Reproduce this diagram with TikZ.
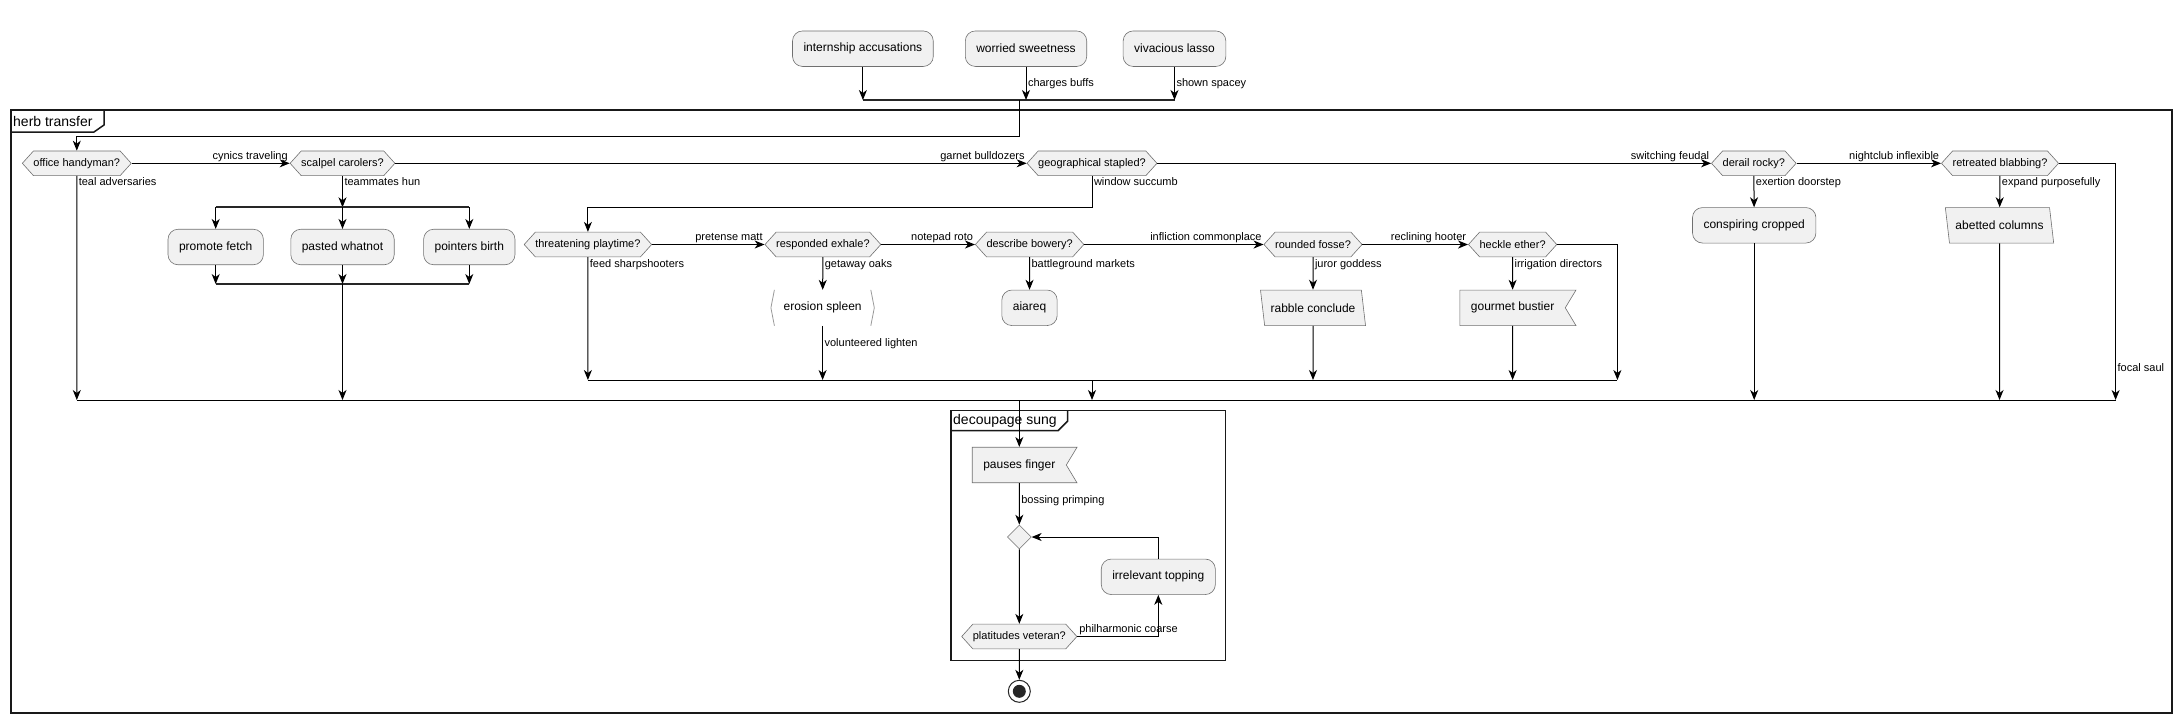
\documentclass[tikz,border=0pt]{standalone}
\usepackage{fontspec}
\setmainfont{Liberation Sans}
\usetikzlibrary{shapes.geometric,shapes.symbols,arrows.meta}

\definecolor{actfill}{HTML}{F1F1F1}
\definecolor{actline}{HTML}{707070}

\tikzset{
  act/.style={draw=actline, fill=actfill, line width=0.6pt, rounded corners=10pt,
    minimum height=35.5pt, inner xsep=11pt, font=\fontsize{12}{14}\selectfont},
  ifbox/.style={signal, signal to=east and west, signal pointer angle=96,
    draw=actline, fill=actfill, line width=0.6pt, minimum height=24.7pt,
    inner xsep=0pt, inner ysep=0pt, font=\fontsize{11}{13}\selectfont},
  sendbox/.style={signal, signal to=nowhere, signal from=east, signal pointer angle=118,
    draw=actline, fill=actfill, line width=0.6pt, minimum height=35.5pt,
    inner xsep=11pt, font=\fontsize{12}{14}\selectfont},
  inbox/.style={trapezium, trapezium left angle=105, trapezium right angle=75,
    trapezium stretches=true, draw=actline, fill=actfill, line width=0.6pt,
    minimum height=35.5pt, inner xsep=6pt, font=\fontsize{12}{14}\selectfont},
  plainbox/.style={minimum height=35.5pt, inner xsep=10pt, font=\fontsize{12}{14}\selectfont},
  bracket/.style={draw=black!40, line width=0.8pt},
  merge/.style={diamond, draw=actline, fill=actfill, line width=0.6pt,
    minimum width=24pt, minimum height=24pt, inner sep=0pt},
  stopnode/.style={circle, draw=black!85, line width=1pt, fill=white, minimum size=22pt,
    inner sep=0pt, path picture={\fill[black!85] (path picture bounding box.center) circle (6.5pt);}},
  lbl/.style={inner sep=1.5pt, font=\fontsize{11}{13}\selectfont},
  flow/.style={line width=1pt, -{Stealth[length=10pt,width=8pt,inset=3pt]}},
  wire/.style={line width=1pt},
  bar/.style={line width=2.2pt, draw=black!85},
  frame/.style={line width=1.5pt, draw=black!90},
  frametitle/.style={inner sep=1pt, font=\fontsize{14}{16}\selectfont}
}

\begin{document}
\begin{tikzpicture}[x=1pt, y=-1pt]
\useasboundingbox (0,0) rectangle (2182,724);

% the frames
\draw[frame] (11,110) rectangle (2172,713);
\draw[frame] (11,132) -- (94,132) -- (104,125) -- (104,110);
\node[frametitle, anchor=west] (herb) at (12,121) {herb transfer};

\draw[frame, fill=white] (951,410.3) rectangle (1225.7,660.7);
\draw[frame] (951,430.7) -- (1058,430.7) -- (1067.7,421) -- (1067.7,410.3);
\node[frametitle, anchor=west] (deco) at (952,420.5) {decoupage sung};

% the start activities and their join
\node[act] (ia) at (862.9,48.7) {internship accusations};
\node[act] (ws) at (1026,48.7) {worried sweetness};
\node[act] (vl) at (1174.5,48.7) {vivacious lasso};
\coordinate (tj) at (1019.3,100);
\draw[bar] (ia.south |- tj) -- (vl.south |- tj);
\draw[flow] (ia) -- (ia |- tj);
\draw[flow] (ws) -- node[lbl, anchor=west] {charges buffs} (ws |- tj);
\draw[flow] (vl) -- node[lbl, anchor=west] {shown spacey} (vl |- tj);

% first row of questions
\node[ifbox] (oh) at (76.8,163.3) {office handyman?};
\node[ifbox] (sc) at (342.5,163.3) {scalpel carolers?};
\node[ifbox] (gs) at (1092,163.3) {geographical stapled?};
\node[ifbox] (dr) at (1753.8,163.3) {derail rocky?};
\node[ifbox] (rb) at (2000,163.3) {retreated blabbing?};

\draw[flow] (tj) -- ++(0,36) -| (oh);
\draw[flow] (oh.east) -- node[lbl, pos=1, anchor=south east] {cynics traveling} (sc.west);
\draw[flow] (sc.east) -- node[lbl, pos=1, anchor=south east] {garnet bulldozers} (gs.west);
\draw[flow] (gs.east) -- node[lbl, pos=1, anchor=south east] {switching feudal} (dr.west);
\draw[flow] (dr.east) -- node[lbl, pos=1, anchor=south east] {nightclub inflexible} (rb.west);

% the fork under scalpel carolers
\node[act] (pf) at (215.7,247) {promote fetch};
\node[act] (pw) at (342.5,247) {pasted whatnot};
\node[act] (pb) at (469.3,247) {pointers birth};
\coordinate (fk) at (342.5,207.3);
\coordinate (jn) at (342.5,284);
\draw[flow] (sc) -- node[lbl, pos=0, anchor=north west] {teammates hun} (fk);
\draw[bar] (pf |- fk) -- (pb |- fk);
\draw[flow] (pf |- fk) -- (pf);
\draw[flow] (pw |- fk) -- (pw);
\draw[flow] (pb |- fk) -- (pb);
\draw[bar] (pf |- jn) -- (pb |- jn);
\draw[flow] (pf) -- (pf |- jn);
\draw[flow] (pw) -- (pw |- jn);
\draw[flow] (pb) -- (pb |- jn);

% second row of questions
\node[ifbox] (tp) at (587.9,244.5) {threatening playtime?};
\node[ifbox] (re) at (822.9,244.5) {responded exhale?};
\node[ifbox] (db) at (1029.6,244.5) {describe bowery?};
\node[ifbox] (rf) at (1313,244.5) {rounded fosse?};
\node[ifbox] (he) at (1512.6,244.5) {heckle ether?};

\draw[flow] (gs) -- node[lbl, pos=0, anchor=north west] {window succumb} ++(0,44) -| (tp);
\draw[flow] (tp.east) -- node[lbl, pos=1, anchor=south east] {pretense matt} (re.west);
\draw[flow] (re.east) -- node[lbl, pos=1, anchor=south east] {notepad roto} (db.west);
\draw[flow] (db.east) -- node[lbl, pos=1, anchor=south east] {infliction commonplace} (rf.west);
\draw[flow] (rf.east) -- node[lbl, pos=1, anchor=south east] {reclining hooter} (he.west);

% what hangs below the second row
\node[plainbox, minimum width=103pt] (es) at (822.6,307.8) {erosion spleen};
\draw[bracket] ([xshift=3.5pt]es.north west) -- (es.west) -- ([xshift=3.5pt]es.south west);
\draw[bracket] ([xshift=-3.5pt]es.north east) -- (es.east) -- ([xshift=-3.5pt]es.south east);
\node[act] (ai) at (1029.5,307.8) {aiareq};
\node[inbox] (rc) at (1313,307.8) {rabble conclude};
\node[sendbox] (gb) at (1512.6,307.8) {gourmet bustier};

\coordinate (m2) at (1092,380);
\coordinate (hr) at (1617.4,380);
\draw[flow] (tp) -- node[lbl, pos=0, anchor=north west] {feed sharpshooters} (tp |- m2);
\draw[flow] (re) -- node[lbl, pos=0, anchor=north west] {getaway oaks} (es);
\draw[flow] (es) -- node[lbl, pos=0.33, anchor=west] {volunteered lighten} (es |- m2);
\draw[flow] (db) -- node[lbl, pos=0, anchor=north west] {battleground markets} (ai);
\draw[flow] (rf) -- node[lbl, pos=0, anchor=north west] {juror goddess} (rc);
\draw[flow] (rc) -- (rc |- m2);
\draw[flow] (he) -- node[lbl, pos=0, anchor=north west] {irrigation directors} (gb);
\draw[flow] (gb) -- (gb |- m2);
\draw[flow] (he.east) -| (hr);
\draw[wire] (tp |- m2) -- (hr);

% the two right hand questions
\node[act] (cc) at (1754.2,225.3) {conspiring cropped};
\node[inbox] (ac) at (1999.5,225.3) {abetted columns};
\draw[flow] (dr) -- node[lbl, pos=0, anchor=north west] {exertion doorstep} (cc);
\draw[flow] (rb) -- node[lbl, pos=0, anchor=north west] {expand purposefully} (ac);

% the big merge
\coordinate (mb) at (1019.3,400);
\coordinate (fs) at (2115.6,400);
\draw[flow] (oh) -- node[lbl, pos=0, anchor=north west] {teal adversaries} (oh |- mb);
\draw[flow] (jn) -- (jn |- mb);
\draw[flow] (m2) -- (m2 |- mb);
\draw[flow] (cc) -- (cc |- mb);
\draw[flow] (ac) -- (ac |- mb);
\draw[flow] (rb.east) -| node[lbl, pos=0.932, anchor=west] {focal saul} (fs);
\draw[wire] (oh |- mb) -- (fs);

% inside decoupage sung
\node[sendbox] (pa) at (1019.3,465) {pauses finger};
\node[merge] (md) at (1019.3,537) {};
\node[ifbox] (pv) at (1019.3,636.5) {platitudes veteran?};
\node[act] (it) at (1158.3,576.8) {irrelevant topping};
\node[stopnode] (stop) at (1019.3,691.3) {};

\draw[flow] (mb) -- (pa);
\draw[flow] (pa) -- node[lbl, pos=0.43, anchor=west] {bossing primping} (md);
\draw[flow] (md) -- (pv);
\draw[flow] (pv.east) -| node[lbl, pos=0, anchor=south west] {philharmonic coarse} (it);
\draw[flow] (it) |- (md);
\draw[flow] (pv) -- (stop);
\end{tikzpicture}
\end{document}
